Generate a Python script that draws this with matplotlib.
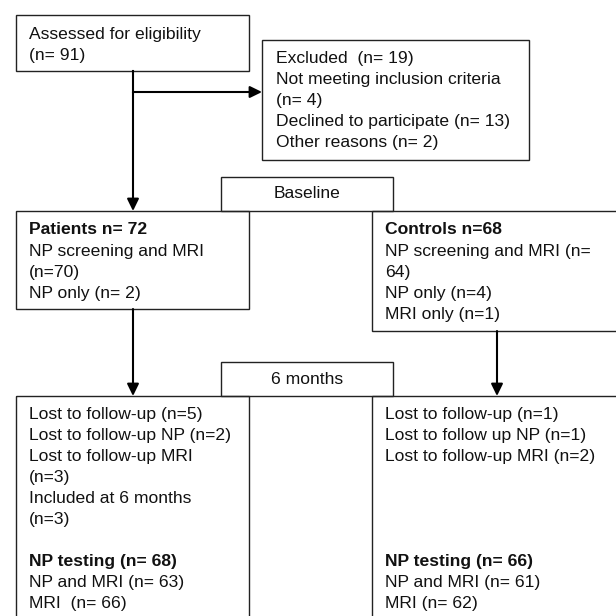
import matplotlib
matplotlib.use("Agg")
import matplotlib.pyplot as plt
from matplotlib.patches import Rectangle

plt.rcParams["font.family"] = ["Liberation Sans", "DejaVu Sans"]

# text content of the flow chart
assessed_lines = ["Assessed for eligibility", "(n= 91)"]
excluded_lines = ["Excluded  (n= 19)", "Not meeting inclusion criteria", "(n= 4)",
                  "Declined to participate (n= 13)", "Other reasons (n= 2)"]
stage_labels = ["Baseline", "6 months"]

patients_header = "Patients n= 72"
patients_lines = ["NP screening and MRI", "(n=70)", "NP only (n= 2)"]
controls_header = "Controls n=68"
controls_lines = ["NP screening and MRI (n=", "64)", "NP only (n=4)", "MRI only (n=1)"]

patients_followup = ["Lost to follow-up (n=5)", "Lost to follow-up NP (n=2)",
                     "Lost to follow-up MRI", "(n=3)", "Included at 6 months", "(n=3)", ""]
patients_header_6m = "NP testing (n= 68)"
patients_lines_6m = ["NP and MRI (n= 63)", "MRI  (n= 66)"]
controls_followup = ["Lost to follow-up (n=1)", "Lost to follow up NP (n=1)",
                     "Lost to follow-up MRI (n=2)", "", "", "", ""]
controls_header_6m = "NP testing (n= 66)"
controls_lines_6m = ["NP and MRI (n= 61)", "MRI (n= 62)"]

FS = 12.6
LH = 21.1
EDGE = "#222222"


def box(ax, x0, y0, x1, y1):
    ax.add_patch(Rectangle((x0, y0), x1 - x0, y1 - y0, fill=False,
                           edgecolor=EDGE, lw=1.0))


def write(ax, x, y, lines, header=None):
    rows = ([(header, "bold")] if header else []) + [(s, "normal") for s in lines]
    for i, (s, w) in enumerate(rows):
        ax.text(x, y + i * LH, s, fontsize=FS, fontweight=w, color="#111111",
                ha="left", va="center")


def arrow(ax, x0, y0, x1, y1):
    ax.annotate("", xy=(x1, y1), xytext=(x0, y0),
                arrowprops=dict(arrowstyle="-|>,head_length=0.45,head_width=0.22",
                                lw=1.5, color="black",
                                mutation_scale=16, shrinkA=0, shrinkB=0))


fig = plt.figure(figsize=(6.16, 6.16), dpi=100)
ax = fig.add_axes([0, 0, 1, 1])
ax.set_xlim(0, 616)
ax.set_ylim(616, 0)
ax.axis("off")

# enrolment
box(ax, 15.5, 14.5, 249, 70.5)
write(ax, 29, 34, assessed_lines)
box(ax, 262, 39.5, 529, 159.5)
write(ax, 276, 58.5, excluded_lines)

ax.plot([133, 133], [70.5, 92], color="black", lw=1.5)
arrow(ax, 133, 92, 262, 92)
arrow(ax, 133, 92, 133, 211)

# baseline
box(ax, 221, 177, 393, 211)
ax.text(307, 194, stage_labels[0], fontsize=FS, ha="center", va="center", color="#111111")
box(ax, 15.5, 211, 249, 309)
write(ax, 29, 230, patients_lines, patients_header)
box(ax, 372, 211, 640, 331)
write(ax, 385, 230, controls_lines, controls_header)

arrow(ax, 133, 309, 133, 396)
arrow(ax, 497, 331, 497, 396)

# 6 months
box(ax, 221, 362, 393, 396)
ax.text(307, 379, stage_labels[1], fontsize=FS, ha="center", va="center", color="#111111")
box(ax, 15.5, 396, 249, 640)
write(ax, 29, 414, patients_followup)
write(ax, 29, 414 + 7 * LH, patients_lines_6m, patients_header_6m)
box(ax, 372, 396, 640, 640)
write(ax, 385, 414, controls_followup)
write(ax, 385, 414 + 7 * LH, controls_lines_6m, controls_header_6m)

fig.savefig("out.png", dpi=100)
